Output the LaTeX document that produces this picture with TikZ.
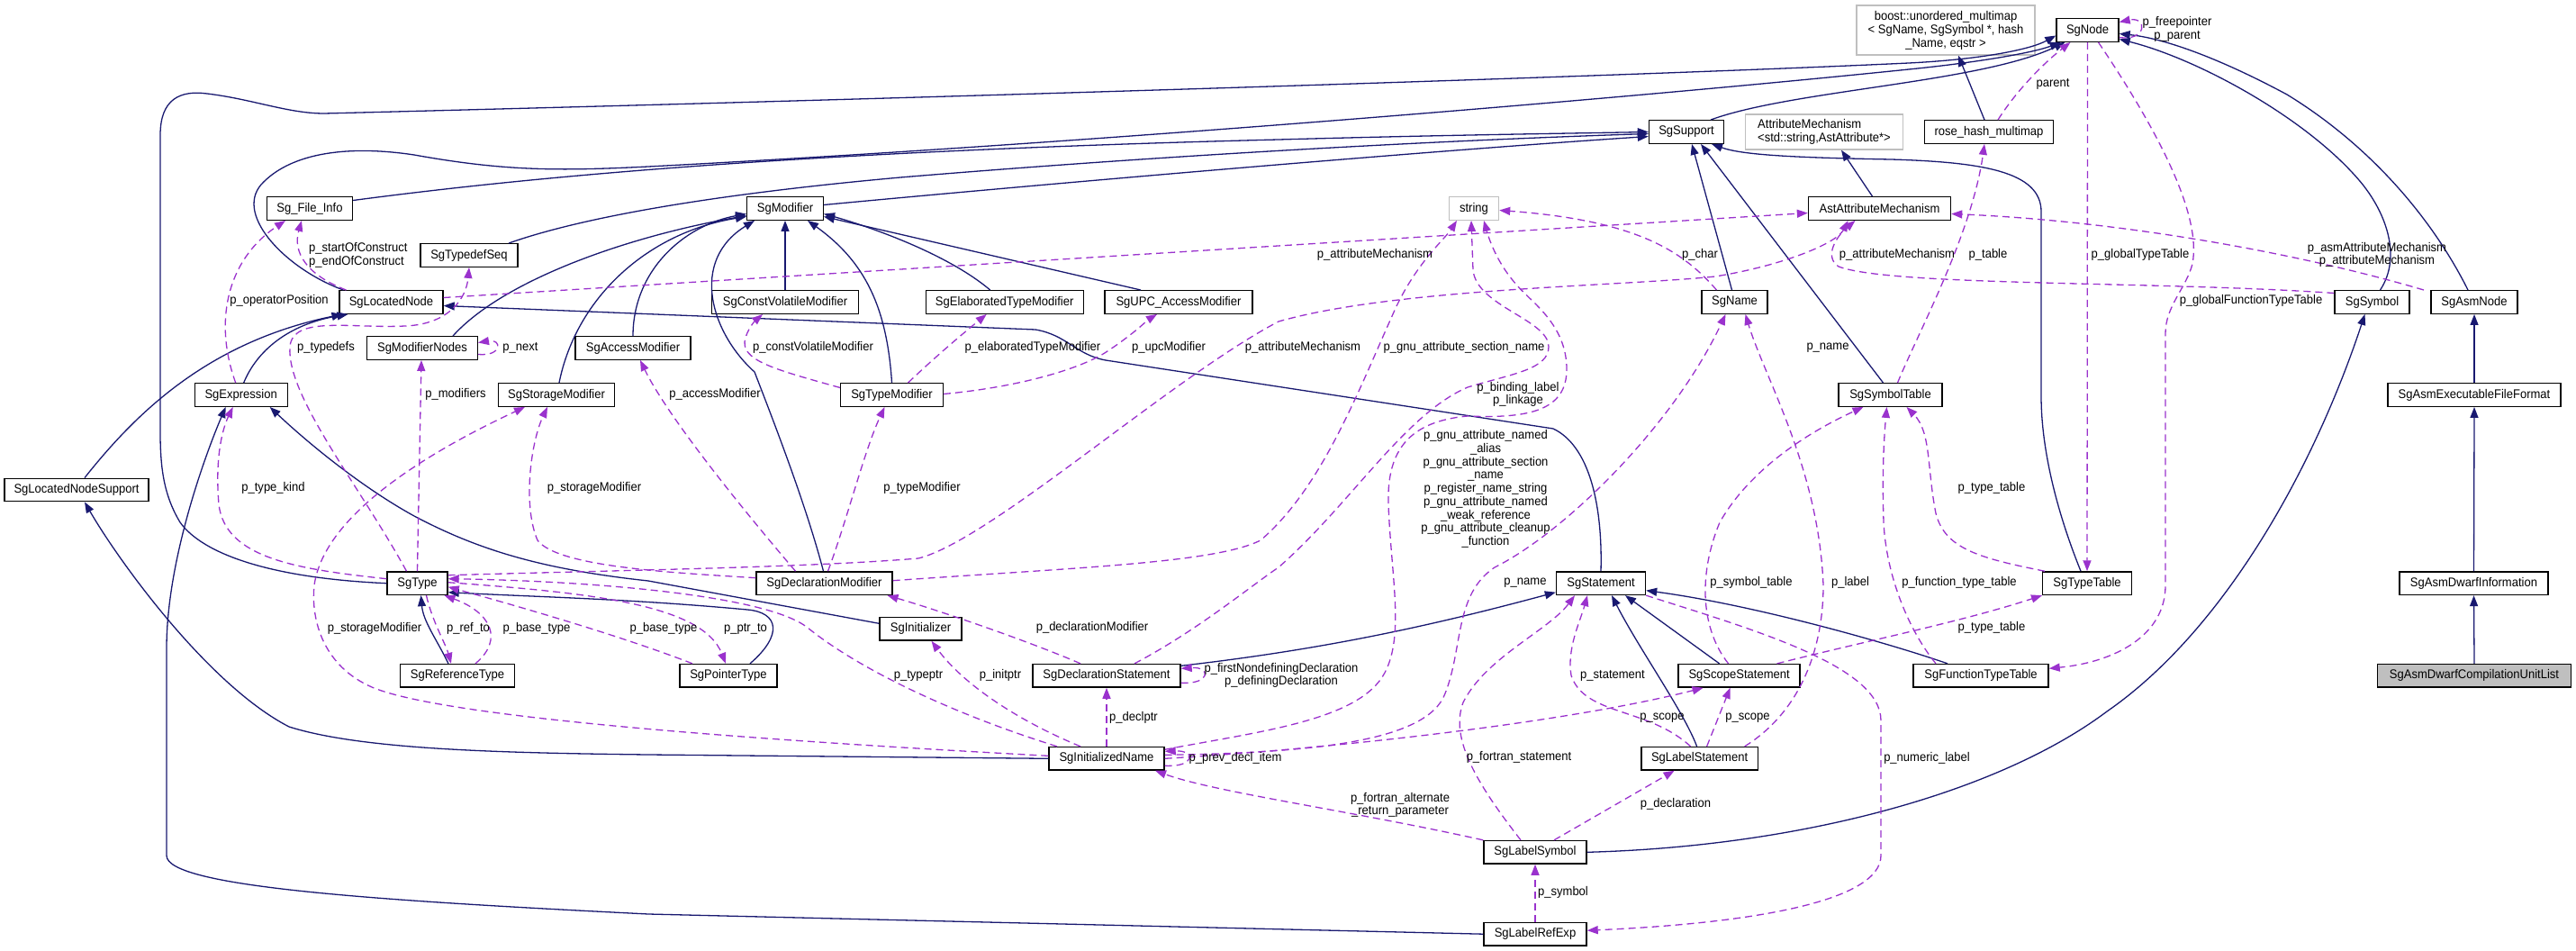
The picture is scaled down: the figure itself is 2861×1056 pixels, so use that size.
\documentclass[tikz,border=0pt]{standalone}
\usepackage{fontspec}
\setmainfont{Liberation Sans}[FakeStretch=0.93]
\usetikzlibrary{arrows.meta}
\definecolor{navy}{HTML}{191970}
\definecolor{purp}{HTML}{9A32CD}
\definecolor{extgray}{HTML}{BFBFBF}
\newcommand{\dxfont}{\fontsize{14}{14.7}\selectfont}
\newcommand{\bxfont}{\fontsize{14}{15}\selectfont}
\tikzset{
  cls/.style={draw=black, line width=1.4pt, minimum height=25.5pt, inner sep=0pt, font=\bxfont, fill=white, align=center},
  ext/.style={cls, draw=extgray},
  lbl/.style={font=\dxfont, inner sep=0pt, align=center},
  inh/.style={draw=navy, line width=1.3pt, -{Triangle[length=12pt,width=9pt]}},
  use/.style={draw=purp, line width=1.3pt, dash pattern=on 8pt off 5pt, -{Triangle[length=12pt,width=9pt]}}
}
\begin{document}
\begin{tikzpicture}[x=1pt,y=-1pt]
\useasboundingbox (0,0) rectangle (2861,1056);
% ---------------- nodes
\node[cls, minimum width=69pt] (SgNode) at (2318.5,33.5) {SgNode};
\node[ext, minimum width=198pt, minimum height=55pt] (boost) at (2161,33.5) {boost::unordered\_multimap\\< SgName, SgSymbol *, hash\\\_Name, eqstr >};
\node[cls, minimum width=83pt] (SgSupport) at (1873,146.5) {SgSupport};
\node[ext, minimum width=175pt, minimum height=39pt, align=left] (AttrMech) at (2026,146.5) {AttributeMechanism\\<std::string,AstAttribute*>};
\node[cls, minimum width=142.5pt] (rosehash) at (2209,146.5) {rose\_hash\_multimap};
\node[cls, minimum width=95pt] (FileInfo) at (344,231.5) {Sg\_File\_Info};
\node[cls, minimum width=84.5pt] (SgModifier) at (872,231.5) {SgModifier};
\node[ext, minimum width=55pt] (string) at (1637,231.5) {string};
\node[cls, minimum width=158pt] (AstAttr) at (2087.5,231.5) {AstAttributeMechanism};
\node[cls, minimum width=108pt] (TypedefSeq) at (521,283.5) {SgTypedefSeq};
\node[cls, minimum width=115pt] (LocatedNode) at (434.5,335.5) {SgLocatedNode};
\node[cls, minimum width=162.5pt] (CVMod) at (872,335.5) {SgConstVolatileModifier};
\node[cls, minimum width=175pt] (ElabMod) at (1115.7,335.5) {SgElaboratedTypeModifier};
\node[cls, minimum width=164pt] (UPCMod) at (1309,335.5) {SgUPC\_AccessModifier};
\node[cls, minimum width=73pt] (SgName) at (1926.5,335.5) {SgName};
\node[cls, minimum width=83pt] (SgSymbol) at (2634.5,335.5) {SgSymbol};
\node[cls, minimum width=96pt] (AsmNode) at (2748,335.5) {SgAsmNode};
\node[cls, minimum width=122.6pt] (ModNodes) at (469,386.5) {SgModifierNodes};
\node[cls, minimum width=128pt] (AccessMod) at (703,386.5) {SgAccessModifier};
\node[cls, minimum width=103pt] (Expr) at (267.7,438.5) {SgExpression};
\node[cls, minimum width=129pt] (StorageMod) at (618,438.5) {SgStorageModifier};
\node[cls, minimum width=113.5pt] (TypeMod) at (990.5,438.5) {SgTypeModifier};
\node[cls, minimum width=115pt] (SymTab) at (2099.5,438.5) {SgSymbolTable};
\node[cls, minimum width=192pt] (AsmExe) at (2748,438.5) {SgAsmExecutableFileFormat};
\node[cls, minimum width=160pt] (LNSupport) at (85,544) {SgLocatedNodeSupport};
\node[cls, minimum width=67pt] (SgType) at (463.5,647.7) {SgType};
\node[cls, minimum width=151pt] (DeclMod) at (915.5,647.7) {SgDeclarationModifier};
\node[cls, minimum width=99pt] (Stmt) at (1778,647.7) {SgStatement};
\node[cls, minimum width=98.5pt] (TypeTable) at (2318,647.7) {SgTypeTable};
\node[cls, minimum width=165pt] (DwarfInfo) at (2747.5,647.7) {SgAsmDwarfInformation};
\node[cls, minimum width=91pt] (Initializer) at (1022.5,698.3) {SgInitializer};
\node[cls, minimum width=126.7pt] (RefType) at (508,750.3) {SgReferenceType};
\node[cls, minimum width=108pt] (PtrType) at (809,750.3) {SgPointerType};
\node[cls, minimum width=164pt] (DeclStmt) at (1229,750.3) {SgDeclarationStatement};
\node[cls, minimum width=135pt] (ScopeStmt) at (1931.6,750.3) {SgScopeStatement};
\node[cls, minimum width=150pt] (FTTable) at (2200,750.3) {SgFunctionTypeTable};
\node[cls, minimum width=215pt, fill=extgray] (CUList) at (2748,750.3) {SgAsmDwarfCompilationUnitList};
\node[cls, minimum width=128pt] (InitName) at (1229,842.3) {SgInitializedName};
\node[cls, minimum width=129.5pt] (LabelStmt) at (1887.6,842.3) {SgLabelStatement};
\node[cls, minimum width=114pt] (LabelSym) at (1705,946.3) {SgLabelSymbol};
\node[cls, minimum width=114pt] (LabelRef) at (1705,1037.2) {SgLabelRefExp};
% ---------------- inheritance
\draw[inh] (CUList.north) -- (DwarfInfo.south);
\draw[inh] (DwarfInfo.north) -- (AsmExe.south);
\draw[inh] (AsmExe.north) -- (AsmNode.south);
\draw[inh] ([xshift=-7pt]AsmNode.north) .. controls (2700,240) and (2630,160) .. (2540,105) .. controls (2460,62) and (2400,42) .. ([yshift=-4pt]SgNode.east);
\draw[inh] ([xshift=9pt]SgSymbol.north) .. controls (2668,285) and (2650,235) .. (2620,200) .. controls (2560,130) and (2440,65) .. ([yshift=-10pt]SgNode.east);
\draw[inh] (LabelSym.east) .. controls (2000,940) and (2220,880) .. (2340,790) .. controls (2470,700) and (2570,520) .. ([xshift=-8pt]SgSymbol.south);
\draw[inh] ([xshift=27pt]SgSupport.north) .. controls (1990,100) and (2200,92) .. ([xshift=-25pt]SgNode.south);
\draw[inh] ([xshift=-5pt]rosehash.north) -- ([xshift=14pt]boost.south);
\draw[inh] ([xshift=-8pt]AstAttr.north) -- ([xshift=19pt]AttrMech.south);
\draw[inh] ([xshift=-3pt]SgName.north) -- ([xshift=6pt]SgSupport.south);
\draw[inh] ([xshift=-8pt]SymTab.north) -- ([xshift=16pt]SgSupport.south);
\draw[inh] ([xshift=-7pt]TypeTable.north) .. controls (2285,570) and (2267,500) .. (2267,440) -- (2267,235) .. controls (2267,190) and (2200,180) .. (2100,177) .. controls (1990,175) and (1935,172) .. ([xshift=28pt]SgSupport.south);
\draw[inh] ([yshift=9pt]FileInfo.east) .. controls (600,195) and (900,168) .. (1420,155) .. controls (1600,150) and (1750,148) .. (SgSupport.west);
\draw[inh] ([yshift=4pt]SgModifier.east) .. controls (1100,210) and (1550,170) .. ([yshift=-5pt]SgSupport.west);
\draw[inh] ([xshift=44pt]TypedefSeq.north) .. controls (650,240) and (800,215) .. (1000,197) .. controls (1300,172) and (1600,156) .. ([yshift=-2pt]SgSupport.west);
\draw[inh] ([xshift=34pt]ModNodes.north) .. controls (560,310) and (700,262) .. ([yshift=-8pt]SgModifier.west);
\draw[inh] ([xshift=3pt]StorageMod.north) .. controls (640,330) and (720,258) .. ([yshift=-9pt]SgModifier.west);
\draw[inh] (AccessMod.north) .. controls (703,300) and (760,250) .. ([yshift=-6pt]SgModifier.west);
\draw[inh] ([xshift=-1pt]DeclMod.north) .. controls (895,560) and (860,470) .. (838,413) .. controls (790,370) and (765,290) .. ([xshift=-34pt]SgModifier.south);
\draw[inh] (CVMod.north) -- (SgModifier.south);
\draw[inh] (TypeMod.north) .. controls (985,340) and (960,290) .. ([xshift=25pt]SgModifier.south);
\draw[inh] ([xshift=-16pt]ElabMod.north) .. controls (1050,280) and (960,250) .. ([yshift=-6pt]SgModifier.east);
\draw[inh] ([xshift=-42pt]UPCMod.north) -- ([yshift=-9pt]SgModifier.east);
\draw[inh] ([xshift=-53pt]LocatedNode.north) .. controls (320,300) and (260,240) .. (290,205) .. controls (320,172) and (380,160) .. (460,172) .. controls (560,190) and (620,190) .. (720,185) .. controls (1200,160) and (1800,110) .. (2120,77) .. controls (2200,69) and (2260,58) .. ([xshift=-30pt]SgNode.south);
\draw[inh] (SgType.west) .. controls (300,642) and (225,615) .. (200,580) .. controls (182,550) and (178,520) .. (178,480) -- (178,150) .. controls (178,110) and (200,100) .. (230,104) .. controls (280,110) and (320,126) .. (360,126) .. controls (1000,110) and (1800,85) .. (2120,70) .. controls (2200,66) and (2255,55) .. ([yshift=-6pt]SgNode.west);
\draw[inh] ([xshift=9pt]LNSupport.north) .. controls (150,460) and (230,380) .. ([xshift=-54pt]LocatedNode.south);
\draw[inh] ([xshift=3pt]Expr.north) .. controls (285,390) and (320,360) .. ([xshift=-48pt]LocatedNode.south);
\draw[inh] (Stmt.north) .. controls (1780,560) and (1765,495) .. (1725,476) -- (1228,400) .. controls (1195,394) and (1185,372) .. (1150,366) -- ([yshift=-4pt]LocatedNode.east);
\draw[inh] (InitName.west) -- (720,838) .. controls (550,836) and (400,832) .. (321,807) .. controls (230,760) and (130,620) .. ([xshift=9pt]LNSupport.south);
\draw[inh] (LabelRef.west) -- (720,1015) .. controls (420,1000) and (185,985) .. (185,950) -- (185,720) .. controls (185,620) and (230,500) .. ([xshift=-17pt]Expr.south);
\draw[inh] ([yshift=6pt]Initializer.west) -- (720,645) .. controls (600,632) and (530,610) .. (460,573) .. controls (400,540) and (340,490) .. ([xshift=32pt]Expr.south);
\draw[inh] ([xshift=-10pt]RefType.north) .. controls (485,710) and (470,690) .. ([xshift=4pt]SgType.south);
\draw[inh] ([xshift=24pt]PtrType.north) .. controls (870,705) and (865,680) .. (830,677) .. controls (700,665) and (600,663) .. ([yshift=-10pt]SgType.east);
\draw[inh] ([yshift=11pt]DeclStmt.east) .. controls (1480,720) and (1600,692) .. ([yshift=-10pt]Stmt.west);
\draw[inh] ([xshift=-22pt]ScopeStmt.north) -- ([xshift=27pt]Stmt.south);
\draw[inh] ([xshift=-3pt]LabelStmt.north) .. controls (1870,790) and (1820,720) .. ([xshift=12pt]Stmt.south);
\draw[inh] ([xshift=-37pt]FTTable.north) .. controls (2100,715) and (1950,672) .. ([yshift=-8pt]Stmt.east);
% ---------------- usage
\draw[use] ([yshift=-8pt]SgNode.east) .. controls (2385,46) and (2385,18) .. ([yshift=9pt]SgNode.east);
\draw[use] ([xshift=10pt]rosehash.north) .. controls (2240,100) and (2270,70) .. ([xshift=-19pt]SgNode.south);
\draw[use] ([xshift=8pt]SymTab.north) .. controls (2130,370) and (2190,260) .. ([xshift=-5pt]rosehash.south);
\draw[use] (SgNode.south) -- (TypeTable.north);
\draw[use] ([xshift=12pt]SgNode.south) .. controls (2400,150) and (2445,240) .. (2435,293) .. controls (2428,320) and (2405,340) .. (2405,370) -- (2405,650) .. controls (2405,705) and (2350,735) .. ([yshift=8pt]FTTable.east);
\draw[use] ([xshift=-20pt]SgName.north) .. controls (1870,280) and (1820,245) .. ([yshift=-2pt]string.east);
\draw[use] ([xshift=-56pt]AsmNode.north) .. controls (2550,280) and (2350,245) .. ([yshift=-6pt]AstAttr.east);
\draw[use] ([yshift=10pt]SgSymbol.west) .. controls (2400,312) and (2100,318) .. (2042,296) .. controls (2025,285) and (2040,262) .. ([xshift=-27pt]AstAttr.south);
\draw[use] ([yshift=5pt]LocatedNode.east) -- ([yshift=-5pt]AstAttr.west);
\draw[use] ([xshift=-50pt]LocatedNode.north) .. controls (340,305) and (325,280) .. ([xshift=-9pt]FileInfo.south);
\draw[use] ([xshift=-6pt]Expr.north) .. controls (238,360) and (250,290) .. ([xshift=-27pt]FileInfo.south);
\draw[use] ([xshift=-12pt]SgType.north) .. controls (400,540) and (318,440) .. (322,385) .. controls (325,350) and (390,365) .. (450,362) .. controls (500,360) and (518,330) .. (TypedefSeq.south);
\draw[use] ([yshift=5pt]SgType.west) .. controls (330,632) and (250,620) .. (243,560) .. controls (238,500) and (250,470) .. ([xshift=-9pt]Expr.south);
\draw[use] (SgType.north) -- ([xshift=-1pt]ModNodes.south);
\draw[use] ([yshift=-7pt]ModNodes.east) .. controls (558,396) and (558,376) .. ([yshift=6pt]ModNodes.east);
\draw[use] ([yshift=6pt]DeclMod.west) .. controls (750,636) and (620,630) .. (597,600) .. controls (580,560) and (590,490) .. ([xshift=-10pt]StorageMod.south);
\draw[use] ([yshift=3pt]InitName.west) .. controls (900,825) and (500,800) .. (413,763) .. controls (360,740) and (345,690) .. (349,650) .. controls (360,570) and (480,500) .. ([xshift=-35pt]StorageMod.south);
\draw[use] ([xshift=10pt]SgType.south) .. controls (480,690) and (495,715) .. ([xshift=-7pt]RefType.north);
\draw[use] ([xshift=20pt]RefType.north) .. controls (560,710) and (545,680) .. ([xshift=30pt]SgType.south);
\draw[use] ([xshift=-40pt]PtrType.north) .. controls (700,710) and (600,680) .. ([yshift=-4pt]SgType.east);
\draw[use] ([yshift=1pt]SgType.east) .. controls (650,658) and (780,670) .. ([xshift=-3pt]PtrType.north);
\draw[use] ([xshift=-55pt]InitName.north) .. controls (1050,790) and (950,740) .. (897,697) .. controls (850,660) and (650,645) .. ([yshift=5pt]SgType.east);
\draw[use] ([yshift=9pt]SgType.east) .. controls (700,633) and (900,630) .. (1020,620) .. controls (1100,600) and (1300,420) .. (1420,357) .. controls (1550,320) and (1800,318) .. (1905,307) .. controls (1980,295) and (2040,270) .. ([xshift=-35pt]AstAttr.south);
\draw[use] ([yshift=3pt]DeclMod.east) .. controls (1200,630) and (1350,625) .. (1400,600) .. controls (1470,540) and (1510,430) .. (1551,340) .. controls (1575,290) and (1605,265) .. ([xshift=-19pt]string.south);
\draw[use] ([xshift=31pt]DeclStmt.north) .. controls (1330,700) and (1390,650) .. (1420,630) .. controls (1500,560) and (1560,460) .. (1630,430) .. controls (1680,415) and (1720,410) .. (1720,385) .. controls (1720,355) and (1640,340) .. (1636,300) -- ([xshift=-3pt]string.south);
\draw[use] ([yshift=10pt]InitName.east) .. controls (1400,812) and (1510,800) .. (1538,747) .. controls (1560,705) and (1545,640) .. (1542,560) .. controls (1540,500) and (1565,468) .. (1630,462) .. controls (1700,465) and (1740,455) .. (1740,410) .. controls (1740,360) and (1700,335) .. (1685,317) .. controls (1665,295) and (1655,270) .. ([xshift=11pt]string.south);
\draw[use] ([yshift=-8pt]DeclStmt.east) .. controls (1345,760) and (1345,740) .. ([yshift=8pt]DeclStmt.east);
\draw[use] (InitName.north) -- (DeclStmt.south);
\draw[use] ([xshift=-29pt]DeclStmt.north) .. controls (1150,715) and (1050,680) .. ([xshift=70pt]DeclMod.south);
\draw[use] ([xshift=-29pt]InitName.north) .. controls (1130,800) and (1070,760) .. ([xshift=12pt]Initializer.south);
\draw[use] ([yshift=4pt]InitName.east) .. controls (1450,836) and (1585,825) .. (1605,770) .. controls (1625,720) and (1615,660) .. (1660,630) .. controls (1740,590) and (1860,470) .. ([xshift=-10pt]SgName.south);
\draw[use] (InitName.east) .. controls (1500,830) and (1750,800) .. ([xshift=-40pt]ScopeStmt.south);
\draw[use] ([yshift=-8pt]InitName.east) .. controls (1328,852) and (1328,833) .. ([yshift=8pt]InitName.east);
\draw[use] (LabelSym.north west) .. controls (1500,900) and (1350,880) .. ([xshift=54pt]InitName.south);
\draw[use] ([xshift=-16pt]LabelSym.north) .. controls (1640,870) and (1610,820) .. (1625,780) .. controls (1650,730) and (1720,700) .. ([xshift=-29pt]Stmt.south);
\draw[use] ([xshift=21pt]LabelSym.north) -- ([xshift=-28pt]LabelStmt.south);
\draw[use] (LabelRef.north) -- (LabelSym.south);
\draw[use] (Stmt.south east) .. controls (1950,700) and (2089,740) .. (2089,800) -- (2089,950) .. controls (2089,1000) and (1950,1025) .. ([yshift=4pt]LabelRef.east);
\draw[use] ([xshift=-10pt]LabelStmt.north) .. controls (1830,785) and (1760,795) .. (1745,750) .. controls (1740,720) and (1755,690) .. ([xshift=-15pt]Stmt.south);
\draw[use] ([xshift=8pt]LabelStmt.north) -- ([xshift=-10pt]ScopeStmt.south);
\draw[use] ([xshift=50pt]LabelStmt.north) .. controls (2000,790) and (2025,720) .. (2025,650) .. controls (2020,520) and (1960,420) .. ([xshift=12pt]SgName.south);
\draw[use] ([xshift=-12pt]ScopeStmt.north) .. controls (1890,700) and (1885,640) .. (1910,580) .. controls (1950,510) and (2030,470) .. ([xshift=-30pt]SymTab.south);
\draw[use] ([xshift=42pt]ScopeStmt.north) .. controls (2080,710) and (2180,690) .. (TypeTable.south west);
\draw[use] ([xshift=-50pt]FTTable.north) .. controls (2120,700) and (2095,640) .. (2092,580) .. controls (2090,520) and (2093,480) .. ([xshift=-4pt]SymTab.south);
\draw[use] ([xshift=-47pt]TypeTable.north) .. controls (2200,620) and (2160,610) .. (2150,570) .. controls (2140,520) and (2145,480) .. ([xshift=18pt]SymTab.south);
\draw[use] ([yshift=8pt]TypeMod.west) .. controls (860,410) and (820,400) .. (828,375) .. controls (832,362) and (840,355) .. ([xshift=-25pt]CVMod.south);
\draw[use] ([xshift=18pt]TypeMod.north) .. controls (1040,395) and (1070,370) .. ([xshift=-20pt]ElabMod.south);
\draw[use] ([yshift=1pt]TypeMod.east) .. controls (1130,430) and (1200,410) .. (1230,390) .. controls (1260,370) and (1275,355) .. ([xshift=-24pt]UPCMod.south);
\draw[use] ([xshift=4pt]DeclMod.north) .. controls (940,580) and (960,500) .. ([xshift=-8pt]TypeMod.south);
\draw[use] ([xshift=-32pt]DeclMod.north) .. controls (820,560) and (740,460) .. ([xshift=8pt]AccessMod.south);
% ---------------- labels
\node[lbl] (lFree) at (2418,32.5) {p\_freepointer\\p\_parent};
\node[lbl] (lParent) at (2280,93) {parent};
\node[lbl] (lTable) at (2208,283) {p\_table};
\node[lbl] (lGTT) at (2377,283) {p\_globalTypeTable};
\node[lbl] (lGFTT) at (2500,334) {p\_globalFunctionTypeTable};
\node[lbl] (lChar) at (1888,283) {p\_char};
\node[lbl] (lAsmAM) at (2640,283) {p\_asmAttributeMechanism\\p\_attributeMechanism};
\node[lbl] (lAM1) at (2107,283) {p\_attributeMechanism};
\node[lbl] (lAM2) at (1527,283) {p\_attributeMechanism};
\node[lbl, align=left, anchor=west] (lSoC) at (343,283.5) {p\_startOfConstruct\\p\_endOfConstruct};
\node[lbl] (lOpPos) at (310,334) {p\_operatorPosition};
\node[lbl] (lTypedefs) at (362,386) {p\_typedefs};
\node[lbl] (lTypeKind) at (303.5,542) {p\_type\_kind};
\node[lbl] (lMods) at (506,438) {p\_modifiers};
\node[lbl] (lNext) at (578,386) {p\_next};
\node[lbl] (lSM1) at (660,542) {p\_storageModifier};
\node[lbl] (lSM2) at (416,698) {p\_storageModifier};
\node[lbl] (lRefTo) at (520,698) {p\_ref\_to};
\node[lbl] (lBT1) at (596,698) {p\_base\_type};
\node[lbl] (lBT2) at (737,698) {p\_base\_type};
\node[lbl] (lPtrTo) at (828,698) {p\_ptr\_to};
\node[lbl] (lTypeptr) at (1020,750) {p\_typeptr};
\node[lbl] (lAM3) at (1447,386) {p\_attributeMechanism};
\node[lbl] (lGnuSec) at (1626,386) {p\_gnu\_attribute\_section\_name};
\node[lbl] (lBind) at (1686,438) {p\_binding\_label\\p\_linkage};
\node[lbl] (lGnu) at (1650,543) {p\_gnu\_attribute\_named\\\_alias\\p\_gnu\_attribute\_section\\\_name\\p\_register\_name\_string\\p\_gnu\_attribute\_named\\\_weak\_reference\\p\_gnu\_attribute\_cleanup\\\_function};
\node[lbl] (lFND) at (1423,750) {p\_firstNondefiningDeclaration\\p\_definingDeclaration};
\node[lbl] (lDeclptr) at (1259,797) {p\_declptr};
\node[lbl] (lDeclMod) at (1213,697) {p\_declarationModifier};
\node[lbl] (lInitptr) at (1111,750) {p\_initptr};
\node[lbl] (lName1) at (1694,647) {p\_name};
\node[lbl] (lScope1) at (1846,797) {p\_scope};
\node[lbl] (lPrev) at (1372,842) {p\_prev\_decl\_item};
\node[lbl] (lFAR) at (1555,894) {p\_fortran\_alternate\\\_return\_parameter};
\node[lbl] (lFS) at (1687,841) {p\_fortran\_statement};
\node[lbl] (lDecl) at (1861,893) {p\_declaration};
\node[lbl] (lSym) at (1736,991) {p\_symbol};
\node[lbl] (lNum) at (2140,842) {p\_numeric\_label};
\node[lbl] (lStmt) at (1791,750) {p\_statement};
\node[lbl] (lScope2) at (1941,797) {p\_scope};
\node[lbl] (lLabel) at (2055,647) {p\_label};
\node[lbl] (lSymTab) at (1945,647) {p\_symbol\_table};
\node[lbl] (lTT1) at (2212,697) {p\_type\_table};
\node[lbl] (lFTT) at (2176,647) {p\_function\_type\_table};
\node[lbl] (lTT2) at (2212,542) {p\_type\_table};
\node[lbl] (lCV) at (903,386) {p\_constVolatileModifier};
\node[lbl] (lElab) at (1147,386) {p\_elaboratedTypeModifier};
\node[lbl] (lUPC) at (1298,386) {p\_upcModifier};
\node[lbl] (lTM) at (1024,542) {p\_typeModifier};
\node[lbl] (lAcc) at (794,438) {p\_accessModifier};
\node[lbl] (lName2) at (2030,386) {p\_name};
\end{tikzpicture}
\end{document}
